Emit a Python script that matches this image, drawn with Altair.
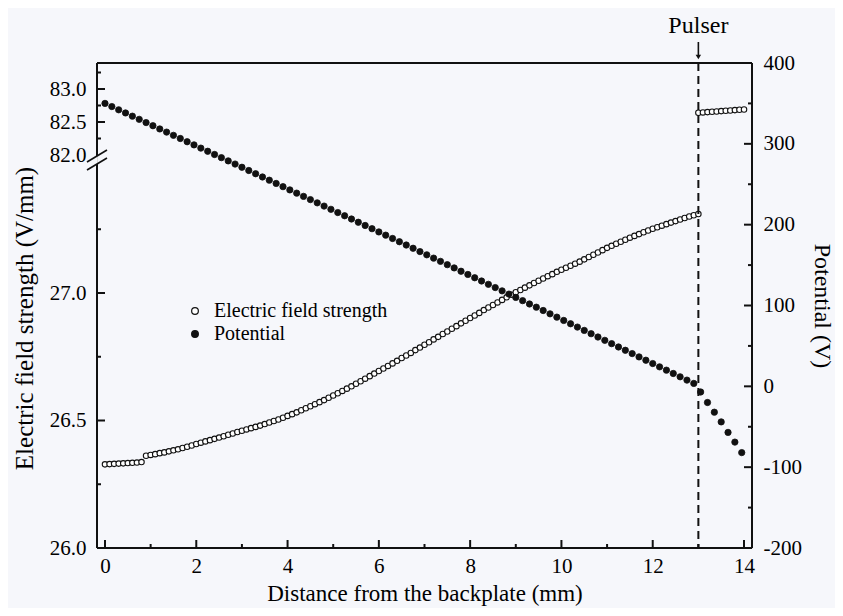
import altair as alt
import pandas as pd
import numpy as np

# ---------------- data ----------------
SERIES = ["Electric field strength", "Potential"]

# electric field, lower (broken) segment: x = 0.0 ... 13.0 mm, step 0.1
e_lo_x = [round(0.1 * i, 2) for i in range(131)]
e_lo_y = [
    26.328, 26.329, 26.330, 26.331, 26.332, 26.333, 26.334, 26.335, 26.337, 26.362,
    26.365, 26.368, 26.372, 26.375, 26.379, 26.383, 26.387, 26.392, 26.397, 26.402,
    26.408, 26.413, 26.418, 26.423, 26.428, 26.433, 26.438, 26.444, 26.449, 26.455,
    26.460, 26.465, 26.470, 26.475, 26.480, 26.486, 26.492, 26.498, 26.504, 26.511,
    26.518, 26.525, 26.532, 26.540, 26.548, 26.556, 26.564, 26.572, 26.580, 26.589,
    26.598, 26.607, 26.616, 26.625, 26.634, 26.644, 26.654, 26.664, 26.674, 26.684,
    26.694, 26.704, 26.714, 26.724, 26.734, 26.745, 26.755, 26.765, 26.776, 26.786,
    26.797, 26.807, 26.818, 26.828, 26.839, 26.849, 26.860, 26.870, 26.881, 26.891,
    26.902, 26.912, 26.922, 26.933, 26.943, 26.953, 26.963, 26.973, 26.983, 26.993,
    27.003, 27.012, 27.021, 27.030, 27.039, 27.048, 27.057, 27.066, 27.074, 27.083,
    27.091, 27.099, 27.107, 27.115, 27.123, 27.132, 27.141, 27.150, 27.159, 27.168,
    27.177, 27.185, 27.193, 27.201, 27.209, 27.217, 27.224, 27.231, 27.238, 27.245,
    27.252, 27.258, 27.264, 27.270, 27.276, 27.282, 27.288, 27.294, 27.300, 27.305,
    27.310,
]

# electric field, upper segment (between pulser and 14 mm)
e_up_x = [13.0, 13.1, 13.2, 13.3, 13.4, 13.5, 13.6, 13.7, 13.8, 13.9, 14.0]
e_up_y = [82.640, 82.645, 82.650, 82.655, 82.660, 82.665, 82.670, 82.675,
          82.680, 82.685, 82.690]

# potential: x = 0 ... 12.9 mm step 0.15, then beyond the pulser
p_x = [round(0.15 * i, 2) for i in range(87)] + [13.05, 13.2, 13.35, 13.5, 13.65, 13.8, 13.95]
p_y = [
    350.0, 346.1, 342.1, 338.2, 334.2, 330.3, 326.3, 322.4, 318.4, 314.5,
    310.5, 306.6, 302.6, 298.7, 294.7, 290.8, 286.8, 282.9, 278.9, 275.0,
    271.0, 267.0, 263.0, 259.0, 255.0, 251.0, 247.0, 243.0, 239.0, 235.0,
    231.0, 227.0, 223.0, 219.0, 215.0, 211.0, 207.0, 203.0, 199.0, 195.0,
    191.0, 187.0, 182.9, 178.9, 174.8, 170.8, 166.7, 162.7, 158.6, 154.6,
    150.5, 146.5, 142.4, 138.4, 134.3, 130.3, 126.2, 122.2, 118.1, 114.1,
    110.0, 106.0, 101.9, 97.9, 93.8, 89.7, 85.6, 81.5, 77.4, 73.3,
    69.2, 65.1, 61.0, 56.9, 52.8, 48.7, 44.6, 40.5, 36.4, 32.3,
    28.2, 24.1, 20.0, 15.9, 11.8, 7.7, 3.6,
    -7.0, -20.0, -32.0, -44.0, -57.0, -69.0, -82.0,
]

PULSER_X = [13.0]
PULSER_LABEL = ["Pulser"]

# tick values / labels
x_major = [0, 2, 4, 6, 8, 10, 12, 14]
x_minor = [1, 3, 5, 7, 9, 11, 13]
lo_major = [26.0, 26.5, 27.0]
lo_minor = [26.25, 26.75, 27.25]
up_labels = [82.0, 82.5, 83.0]
up_major = [82.5, 83.0]
up_minor = [82.25, 82.75, 83.25]
p_major = [-200, -100, 0, 100, 200, 300, 400]
p_minor = [-150, -50, 50, 150, 250, 350]

# ---------------- geometry / style ----------------
W, H = 655, 485
FONT = "Liberation Serif"
INK = "#111111"
BG = "#f6f7fb"
MAJ, MIN = 8, 4

X_DOMAIN = [-0.175, 14.175]
LO_PX = 255.0                      # px per V/mm, lower segment
UP_PX = 66.0                       # px per V/mm, upper segment
LO_DOMAIN = [26.0, 26.0 + H / LO_PX]
UP_DOMAIN = [83.0 - (H - 26) / UP_PX, 83.0 + 26 / UP_PX]
P_DOMAIN = [-200, 400]
GAP_TOP, GAP_BOT = 93, 101         # break in the left axis (px from top)

xscale = alt.Scale(domain=X_DOMAIN, nice=False, zero=False)
lo_scale = alt.Scale(domain=LO_DOMAIN, nice=False, zero=False)
up_scale = alt.Scale(domain=UP_DOMAIN, nice=False, zero=False)
p_scale = alt.Scale(domain=P_DOMAIN, nice=False, zero=False)

common_axis = dict(ticks=False, domain=False, grid=False, labelFlush=False,
                   labelFont=FONT, labelFontSize=21, labelColor="black",
                   titleFont=FONT, titleFontWeight="normal", titleColor="black")

xaxis = alt.Axis(values=x_major, format="d", labelPadding=7,
                 title="Distance from the backplate (mm)", titleFontSize=23,
                 titlePadding=6, **common_axis)
lo_axis = alt.Axis(orient="left", values=lo_major, format=".1f", labelPadding=11,
                   title="Electric field strength (V/mm)", titleFontSize=25,
                   titlePadding=12, titleY=255, **common_axis)
up_axis = alt.Axis(orient="left", values=up_labels, format=".1f", labelPadding=11,
                   title=None, **common_axis)
p_axis = alt.Axis(orient="right", values=p_major, labelExpr="'' + datum.value",
                  labelPadding=11, title="Potential (V)", titleFontSize=24,
                  titlePadding=8, **common_axis)

legend = alt.Legend(orient="none", legendX=88, legendY=238, title=None,
                    labelFont=FONT, labelFontSize=20, labelColor="black", labelLimit=0,
                    symbolType="circle", symbolSize=45, symbolStrokeColor=INK,
                    symbolStrokeWidth=1.2, rowPadding=3, labelOffset=9, padding=0)
fill = alt.Fill("series:N", scale=alt.Scale(domain=SERIES, range=["#ffffff", INK]),
                legend=legend)

X = lambda f: alt.X(f, scale=xscale, axis=xaxis)

df_lo = pd.DataFrame({"x": e_lo_x, "E": e_lo_y, "series": SERIES[0]})
df_up = pd.DataFrame({"x": e_up_x, "E": e_up_y, "series": SERIES[0]})
df_p = pd.DataFrame({"x": p_x, "P": p_y, "series": SERIES[1]})
df_pulser = pd.DataFrame({"x": PULSER_X, "label": PULSER_LABEL})
one = pd.DataFrame({"k": [0]})

e_lo = alt.Chart(df_lo).mark_circle(size=30, stroke=INK, strokeWidth=1.1, opacity=1).encode(
    x=X("x:Q"), y=alt.Y("E:Q", scale=lo_scale, axis=lo_axis), fill=fill)
e_up = alt.Chart(df_up).mark_circle(size=30, stroke=INK, strokeWidth=1.1, opacity=1).encode(
    x=X("x:Q"), y=alt.Y("E:Q", scale=up_scale, axis=up_axis), fill=fill)
pot = alt.Chart(df_p).mark_circle(size=40, stroke=INK, strokeWidth=0.8, opacity=1).encode(
    x=X("x:Q"), y=alt.Y("P:Q", scale=p_scale, axis=p_axis), fill=fill)


def xticks(vals, length):
    return alt.Chart(pd.DataFrame({"v": vals})).mark_rule(color=INK, strokeWidth=2).encode(
        x=X("v:Q"), y=alt.value(H), y2=alt.value(H - length))


def yticks(vals, scale, length, right=False):
    x0 = W if right else 0
    x1 = W - length if right else length
    return alt.Chart(pd.DataFrame({"v": vals})).mark_rule(color=INK, strokeWidth=2).encode(
        y=alt.Y("v:Q", scale=scale, axis=None), x=alt.value(x0), x2=alt.value(x1))


def rule(**enc):
    return alt.Chart(one).mark_rule(color=INK, strokeWidth=2).encode(**enc)


frame = [
    rule(x=alt.value(0), x2=alt.value(W), y=alt.value(0)),
    rule(x=alt.value(0), x2=alt.value(W), y=alt.value(H)),
    rule(x=alt.value(W), y=alt.value(0), y2=alt.value(H)),
    rule(x=alt.value(0), y=alt.value(0), y2=alt.value(GAP_TOP)),
    rule(x=alt.value(0), y=alt.value(GAP_BOT), y2=alt.value(H)),
]
breaks = [
    alt.Chart(one).mark_rule(color=INK, strokeWidth=1.6).encode(
        x=alt.value(-10), x2=alt.value(10), y=alt.value(g + 6), y2=alt.value(g - 6))
    for g in (GAP_TOP, GAP_BOT)
]

dashed = alt.Chart(df_pulser).mark_rule(color=INK, strokeWidth=2, strokeDash=[8, 5]).encode(
    x=X("x:Q"))
pulser_text = alt.Chart(df_pulser).mark_text(font=FONT, fontSize=24, color="black",
                                              baseline="alphabetic").encode(
    x=X("x:Q"), y=alt.value(-30), text="label:N")
arrow_shaft = alt.Chart(df_pulser).mark_rule(color=INK, strokeWidth=1.6).encode(
    x=X("x:Q"), y=alt.value(-21), y2=alt.value(-8))
arrow_head = alt.Chart(df_pulser).mark_point(shape="triangle-down", filled=True, size=30,
                                              color=INK, opacity=1).encode(
    x=X("x:Q"), y=alt.value(-6))

layers = (
    [e_lo, e_up, pot]
    + frame + breaks
    + [xticks(x_major, MAJ), xticks(x_minor, MIN),
       yticks(lo_major, lo_scale, MAJ), yticks(lo_minor, lo_scale, MIN),
       yticks(up_major, up_scale, MAJ), yticks(up_minor, up_scale, MIN),
       yticks(p_major, p_scale, MAJ, right=True), yticks(p_minor, p_scale, MIN, right=True)]
    + [dashed, pulser_text, arrow_shaft, arrow_head]
)

chart = (
    alt.layer(*layers)
    .resolve_scale(y="independent")
    .properties(width=W, height=H, background=BG,
                autosize=alt.AutoSizeParams(type="none"),
                padding={"left": 89, "top": 55, "right": 83, "bottom": 60})
    .configure_view(stroke=None)
    .configure(font=FONT)
)

chart.save("out.html", embed_options={"renderer": "svg", "actions": False})
